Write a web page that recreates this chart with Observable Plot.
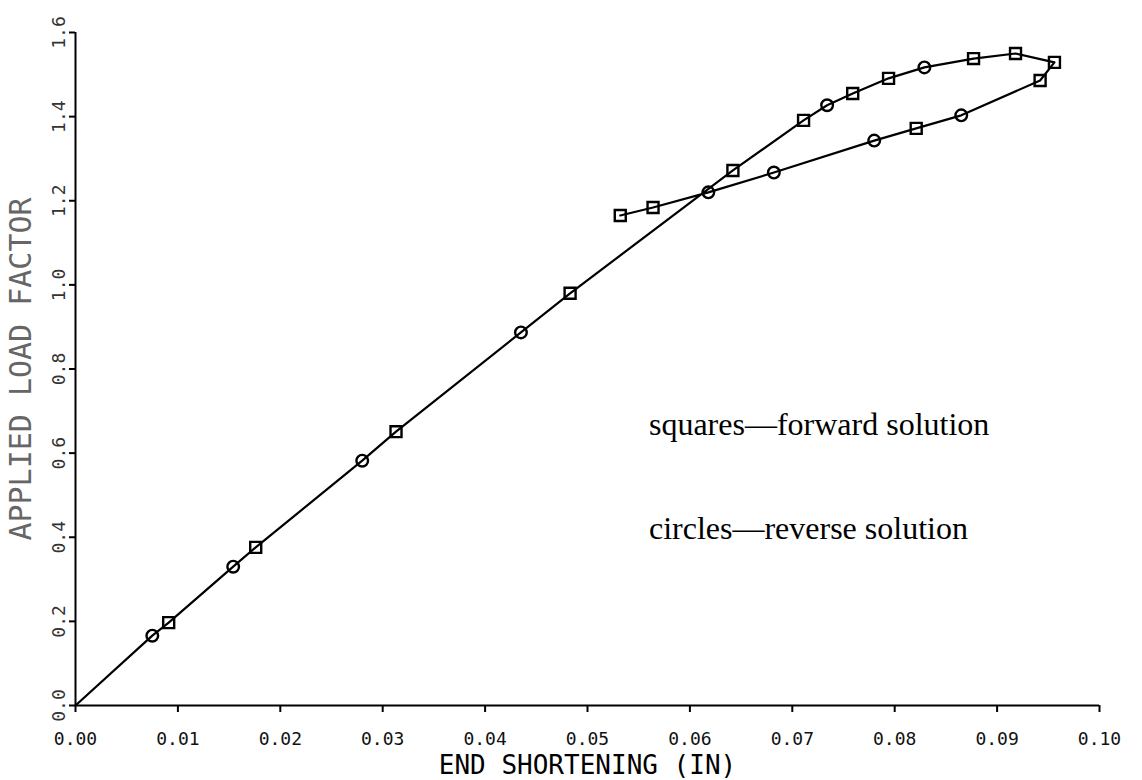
<!DOCTYPE html>
<html>
<head>
<meta charset="utf-8">
<script src="https://cdn.jsdelivr.net/npm/d3@7"></script>
<script src="https://cdn.jsdelivr.net/npm/@observablehq/plot@0.6"></script>
<style>
  html, body { margin: 0; padding: 0; background: #fff; }
  #chart svg { display: block; }
</style>
</head>
<body>
<div id="chart"></div>
<script>
// ---- data ----
const xTicks = [0, 0.01, 0.02, 0.03, 0.04, 0.05, 0.06, 0.07, 0.08, 0.09, 0.10];
const yTicks = [0, 0.2, 0.4, 0.6, 0.8, 1.0, 1.2, 1.4, 1.6];

// path in drawing order (end shortening in inches, applied load factor)
const pathX = [0, 0.0075, 0.0091, 0.0154, 0.0176, 0.0280, 0.0313, 0.0435, 0.0483,
               0.0642, 0.0711, 0.0734, 0.0759, 0.0794, 0.0829, 0.0877, 0.0918, 0.0956,
               0.0942, 0.0865, 0.0821, 0.0780, 0.0682, 0.0618, 0.0564, 0.0532];
const pathY = [0, 0.166, 0.197, 0.330, 0.376, 0.582, 0.651, 0.887, 0.980,
               1.272, 1.391, 1.427, 1.455, 1.491, 1.517, 1.538, 1.550, 1.529,
               1.486, 1.403, 1.372, 1.343, 1.267, 1.220, 1.184, 1.165];
const pathMarker = ["none", "circle", "square", "circle", "square", "circle", "square", "circle", "square",
                    "square", "square", "circle", "square", "square", "circle", "square", "square", "square",
                    "square", "circle", "square", "circle", "circle", "circle", "square", "square"];

const legendLabels = ["squares\u2014forward solution", "circles\u2014reverse solution"];
const xTitle = "END SHORTENING (IN)";
const yTitle = "APPLIED LOAD FACTOR";

const points = pathX.map((x, i) => ({x, y: pathY[i], m: pathMarker[i]}));
const squares = points.filter(d => d.m === "square");
const circles = points.filter(d => d.m === "circle");
const legend = [
  {t: legendLabels[0], x: 0.0560, y: 0.667},
  {t: legendLabels[1], x: 0.0560, y: 0.421}
];

const chart = Plot.plot({
  width: 1142,
  height: 780,
  marginLeft: 75,
  marginRight: 43,
  marginTop: 32,
  marginBottom: 75,
  x: {domain: [0, 0.1], label: null},
  y: {domain: [0, 1.6], label: null},
  style: {fontFamily: "DejaVu Sans Mono", fontSize: "16px", color: "#000", background: "#fff"},
  marks: [
    Plot.ruleY([0], {x1: 0, x2: 0.1, stroke: "#000", strokeWidth: 2}),
    Plot.ruleX([0], {y1: 0, y2: 1.6, stroke: "#000", strokeWidth: 2}),
    Plot.axisX({ticks: xTicks, tickSize: 7, tickFormat: () => "", label: null, strokeWidth: 2}),
    Plot.axisY({ticks: yTicks, tickSize: 6, tickFormat: () => "", label: null, strokeWidth: 2}),
    Plot.text(xTicks, {x: d => d, frameAnchor: "bottom", dy: 34, text: d3.format(".2f"),
      textAnchor: "middle", lineAnchor: "middle", fontSize: 18, fill: "#111"}),
    Plot.text(yTicks, {y: d => d, frameAnchor: "left", dx: -16, rotate: -90, text: d3.format(".1f"),
      textAnchor: "middle", lineAnchor: "middle", fontSize: 18, fill: "#333"}),
    Plot.text([xTitle], {frameAnchor: "bottom", dy: 60, text: d => d, fontSize: 26, lineAnchor: "middle",
      textAnchor: "middle"}),
    Plot.text([yTitle], {frameAnchor: "left", dx: -54, rotate: -90, text: d => d, fontSize: 30, lineAnchor: "middle",
      textAnchor: "middle", fill: "#666"}),
    Plot.line(points, {x: "x", y: "y", stroke: "#000", strokeWidth: 2.2}),
    Plot.dot(squares, {x: "x", y: "y", symbol: "square", r: 6.2, stroke: "#000", strokeWidth: 2.4, fill: "none"}),
    Plot.dot(circles, {x: "x", y: "y", symbol: "circle", r: 5.8, stroke: "#000", strokeWidth: 2.4, fill: "none"}),
    Plot.text(legend, {x: "x", y: "y", text: "t", textAnchor: "start", lineAnchor: "middle",
      fontFamily: "Liberation Serif", fontSize: 32, fill: "#000"})
  ]
});
document.getElementById("chart").appendChild(chart);
</script>
</body>
</html>
